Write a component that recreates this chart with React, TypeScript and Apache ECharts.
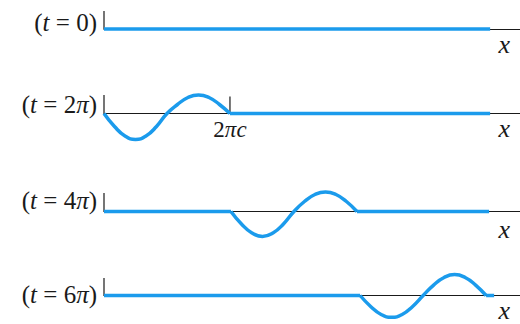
import React, { useEffect, useRef } from "react";
import * as echarts from "echarts";

// Row labels: time values (t = 0, 2π, 4π, 6π)
const rowTimes = ["0", "2", "4", "6"];
const rowHasPi = [false, true, true, true];
// Baseline (pixel row) of each panel
const baselines = [28, 113.5, 211.5, 297];
// Where the pulse starts along x (in units of c), null = no pulse
const pulseStarts: (number | null)[] = [null, 0, 6.33, 12.77];
const pulseWidth = 6.28; // 2π c
// Where the blue string ends
const lineEnds = [19.25, 19.25, 19.2, 19.45];
// Pulse displacement samples at twelfths of the pulse
const pulseShapes: number[][] = [
  [],
  [0, -13, -22.5, -26, -22.5, -13, 0, 9, 16, 18.5, 16, 9, 0],
  [0, -12.5, -21.5, -25, -21.5, -12.5, 0, 10, 17, 19.5, 17, 10, 0],
  [0, -11.5, -20, -23, -20, -11.5, 0, 11, 19, 22, 19, 11, 0],
];
const xMax = 20.74;
const tickHeight = 18.5;
const markTickHeight = 17;
const labelOffsets = [5.5, 9, 11.5, 2.5];
const xLabelPos = 19.95;
const xLabelDrops = [-16, -15, -18, -16];
const markLabelDrop = -15.5;

const BLUE = "#1b9bec";
const INK = "#1a1a1a";
const SERIF = "Liberation Serif";

export default function App() {
  const ref = useRef<HTMLDivElement>(null);
  useEffect(() => {
    document.body.style.margin = "0";
    if (!ref.current) return;
    const chart = echarts.init(ref.current, undefined, { renderer: "svg" });

    const grids: any[] = [];
    const xAxes: any[] = [];
    const yAxes: any[] = [];
    const series: any[] = [];
    const titles: any[] = [];

    const txt = (size: number, italic: boolean, lh?: number) => ({
      fontFamily: SERIF,
      fontSize: size,
      fontStyle: italic ? "italic" : "normal",
      fontWeight: "normal",
      color: INK,
      ...(lh ? { lineHeight: lh } : {}),
    });

    baselines.forEach((b, r) => {
      grids.push({ left: 104, width: 416, top: b - 30, height: 60 });
      xAxes.push({
        type: "value",
        gridIndex: r,
        min: 0,
        max: xMax,
        axisLine: { show: true, onZero: true, lineStyle: { color: INK, width: 1.2 } },
        axisTick: { show: false },
        axisLabel: { show: false },
        splitLine: { show: false },
      });
      yAxes.push({
        type: "value",
        gridIndex: r,
        min: -30,
        max: 30,
        show: false,
        splitLine: { show: false },
      });

      const blueStyle = { color: BLUE, width: 3.5 };
      const start = pulseStarts[r];
      const end = lineEnds[r];
      if (start === null) {
        series.push({
          type: "line", xAxisIndex: r, yAxisIndex: r, showSymbol: false, z: 3,
          lineStyle: blueStyle, data: [[0, 0], [end, 0]],
        });
      } else {
        if (start > 0) {
          series.push({
            type: "line", xAxisIndex: r, yAxisIndex: r, showSymbol: false, z: 3,
            lineStyle: blueStyle, data: [[0, 0], [start, 0]],
          });
        }
        const shape = pulseShapes[r];
        series.push({
          type: "line", xAxisIndex: r, yAxisIndex: r, showSymbol: false, z: 3,
          smooth: true, lineStyle: blueStyle,
          data: shape.map((v, k) => [start + (k / (shape.length - 1)) * pulseWidth, v]),
        });
        series.push({
          type: "line", xAxisIndex: r, yAxisIndex: r, showSymbol: false, z: 3,
          lineStyle: blueStyle, data: [[start + pulseWidth, 0], [end, 0]],
        });
      }
      // start tick
      series.push({
        type: "line", xAxisIndex: r, yAxisIndex: r, showSymbol: false, z: 2,
        lineStyle: { color: INK, width: 1.2 }, data: [[0, 0], [0, tickHeight]],
      });
      if (r === 1) {
        series.push({
          type: "line", xAxisIndex: r, yAxisIndex: r, showSymbol: false, z: 2,
          lineStyle: { color: INK, width: 1.2 },
          data: [[pulseWidth, 0], [pulseWidth, markTickHeight]],
        });
      }

      const lh = 30;
      titles.push({
        right: 423,
        top: b - labelOffsets[r] - lh / 2,
        padding: 0,
        text: rowHasPi[r]
          ? `{n|(}{i|t}{n| = ${rowTimes[r]}}{i|π}{n|)}`
          : `{n|(}{i|t}{n| = ${rowTimes[r]})}`,
        textStyle: {
          ...txt(25, false, lh),
          rich: { n: txt(25, false, lh), i: txt(25, true, lh) },
        },
      });
    });

    chart.setOption({
      animation: false,
      backgroundColor: "#ffffff",
      title: titles,
      grid: grids,
      xAxis: xAxes,
      yAxis: yAxes,
      series,
    });

    // Text annotations placed through the axes' own scales
    const gtxt = (size: number, italic: boolean) => ({
      fontFamily: SERIF,
      fontSize: size,
      fontStyle: italic ? "italic" : "normal",
      fontWeight: "normal",
      fill: INK,
    });
    const graphics: any[] = [];
    baselines.forEach((_, r) => {
      const p = chart.convertToPixel({ gridIndex: r } as any, [xLabelPos, xLabelDrops[r]]) as number[];
      graphics.push({
        type: "text", x: p[0], y: p[1],
        style: { text: "x", ...gtxt(26, true), align: "center", verticalAlign: "middle" },
      });
    });
    const m = chart.convertToPixel({ gridIndex: 1 } as any, [pulseWidth, markLabelDrop]) as number[];
    graphics.push({
      type: "text", x: m[0], y: m[1],
      style: {
        text: "{n|2}{i|πc}",
        align: "center",
        verticalAlign: "middle",
        rich: { n: gtxt(23, false), i: gtxt(23, true) },
      },
    });
    chart.setOption({ graphic: graphics });

    return () => chart.dispose();
  }, []);
  return <div ref={ref} style={{ width: 520, height: 324 }} />;
}
